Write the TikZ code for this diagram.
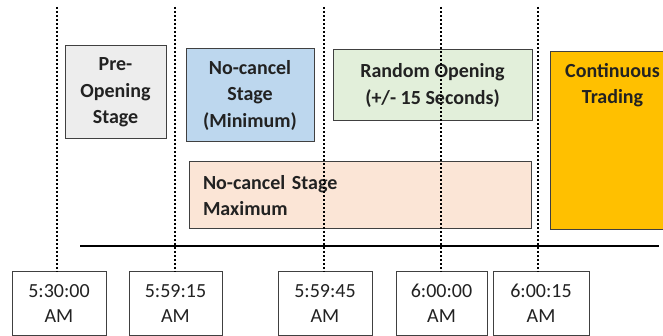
\documentclass[tikz,border=0pt]{standalone}
\usepackage{fontspec}
\setmainfont{Carlito}
\definecolor{bordc}{HTML}{404040}
\definecolor{txtc}{HTML}{222222}
\definecolor{greyf}{HTML}{EDEDED}
\definecolor{bluef}{HTML}{BDD7EE}
\definecolor{greenf}{HTML}{E2EFDA}
\definecolor{peachf}{HTML}{FBE5D6}
\definecolor{orangef}{HTML}{FFC000}
\begin{document}
\begin{tikzpicture}[x=1pt,y=-1pt,
  stagebox/.style={draw=bordc,line width=1pt,inner sep=0pt,align=center,text=txtc,
    font=\bfseries\fontsize{20}{26.5}\selectfont},
  timebox/.style={draw=bordc,line width=1pt,fill=white,inner sep=0pt,align=center,text=txtc,
    minimum height=63pt,font=\fontsize{20}{25}\selectfont},
  dotline/.style={line width=2.5pt,dash pattern=on 2pt off 2pt,black},
  axisline/.style={line width=2pt,black}]
\useasboundingbox (0,0) rectangle (663,336);
\clip (0,0) rectangle (663,336);
% stage boxes
\node[stagebox,fill=greyf,minimum width=101pt,minimum height=93pt] (pre) at (115.5,92.5) {Pre-\\Opening\\Stage};
\node[stagebox,fill=bluef,minimum width=128pt,minimum height=93pt] (ncmin) at (250,95.5) {No-cancel\\Stage\\(Minimum)};
\node[stagebox,fill=greenf,minimum width=199pt,minimum height=71pt] (rand) at (432.5,85.5) {Random Opening\\(+/- 15 Seconds)};
\node[draw=bordc,line width=1pt,fill=orangef,minimum width=125pt,minimum height=178pt,inner sep=0pt] (cont) at (612.5,141) {};
\node[stagebox,draw=none,anchor=north] (contlbl) at ([yshift=-11pt]cont.north) {Continuous\\Trading};
\node[stagebox,fill=peachf,minimum height=67pt,text width=314pt,inner xsep=14pt,align=left] (ncmax) at (360,195.5) {No-cancel Stage\\Maximum};
% time boxes
\node[timebox,minimum width=94pt] (t1) at (59,303.5) {5:30:00\\AM};
\node[timebox,minimum width=93pt] (t2) at (175.5,303.5) {5:59:15\\AM};
\node[timebox,minimum width=94pt] (t3) at (325,303.5) {5:59:45\\AM};
\node[timebox,minimum width=91pt] (t4) at (441.5,303.5) {6:00:00\\AM};
\node[timebox,minimum width=96pt] (t5) at (541,303.5) {6:00:15\\AM};
% timeline
\coordinate (axl) at (80,246.5);
\coordinate (axr) at (659,246.5);
\draw[axisline] (axl) -- (axr);
% dotted markers
\coordinate (d1) at (57,7);
\coordinate (d2) at (175,7);
\coordinate (d3) at (324,7);
\coordinate (d4) at (441,7);
\coordinate (d5) at (538,7);
\draw[dotline] (d1) -- (d1 |- t1.north);
\draw[dotline] (d2) -- (d2 |- t2.north);
\draw[dotline] (d3) -- (d3 |- t3.north);
\draw[dotline] (d4) -- (d4 |- t4.north);
\draw[dotline] (d5) -- (d5 |- t5.north);
\end{tikzpicture}
\end{document}
